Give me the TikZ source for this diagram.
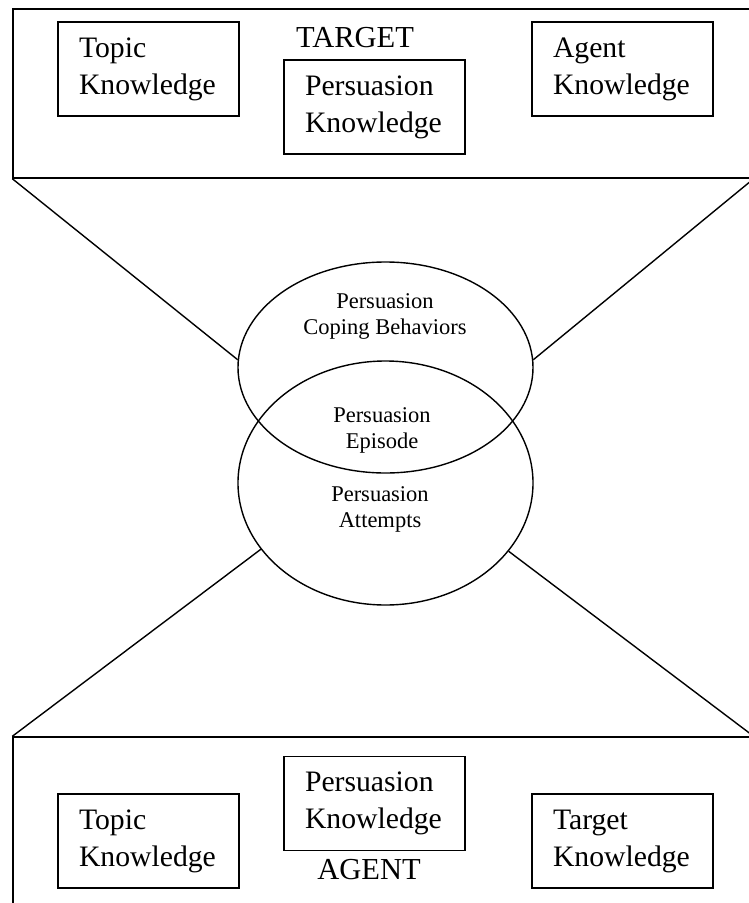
\documentclass[tikz,border=0pt]{standalone}
\usepackage{fontspec}
\setmainfont{Liberation Serif}
\usetikzlibrary{shapes.geometric}

\begin{document}
\begin{tikzpicture}[x=1pt, y=-1pt, line width=1.4pt,
  frame/.style={draw, rectangle, inner sep=0pt},
  kbox/.style={draw, rectangle, minimum width=181pt, minimum height=94pt,
    inner sep=0pt, text width=139pt, align=left,
    font=\fontsize{29.7}{37}\selectfont},
  role/.style={font=\fontsize{30.5}{36}\selectfont},
  oval/.style={draw, ellipse, inner sep=0pt, minimum width=295pt},
  small/.style={align=center, font=\fontsize{22.5}{26}\selectfont}]
  % Page size
  \useasboundingbox (0,0) rectangle (749,903);
  \clip (0,0) rectangle (749,903);

  % Target frame
  \node[frame, minimum width=740pt, minimum height=169pt] (tframe) at (383,93.5) {};
  \node[kbox] (ttopic) at (148.5,69) {Topic\\Knowledge};
  \node[kbox] (tpers) at (374.5,107) {Persuasion\\Knowledge};
  \node[kbox] (tagent) at (622.5,69) {Agent\\Knowledge};
  \node[role] (target) at (355,38) {TARGET};

  % Agent frame
  \node[frame, minimum width=740pt, minimum height=178pt] (aframe) at (383,826) {};
  \node[kbox] (atopic) at (148.5,841) {Topic\\Knowledge};
  \node[kbox] (apers) at (374.5,803.5) {Persuasion\\Knowledge};
  \node[kbox] (atarget) at (622.5,841) {Target\\Knowledge};
  \node[role] (agent) at (369,870) {AGENT};

  % The two ovals
  \node[oval, minimum height=211pt] (coping) at (385.5,367.5) {};
  \node[oval, minimum height=244pt] (attempt) at (385.5,483) {};
  \node[small] (coptext) at (385,316) {Persuasion\\Coping Behaviors};
  \node[small] (epitext) at (382,430) {Persuasion\\Episode};
  \node[small] (atttext) at (380,509) {Persuasion\\Attempts};

  % Lines from frames to ovals
  \draw (tframe.south west) -- (coping.177);
  \draw (tframe.south east) -- (coping.3);
  \draw (aframe.north west) -- (attempt.208.5);
  \draw (aframe.north east) -- (attempt.331.7);
\end{tikzpicture}
\end{document}
